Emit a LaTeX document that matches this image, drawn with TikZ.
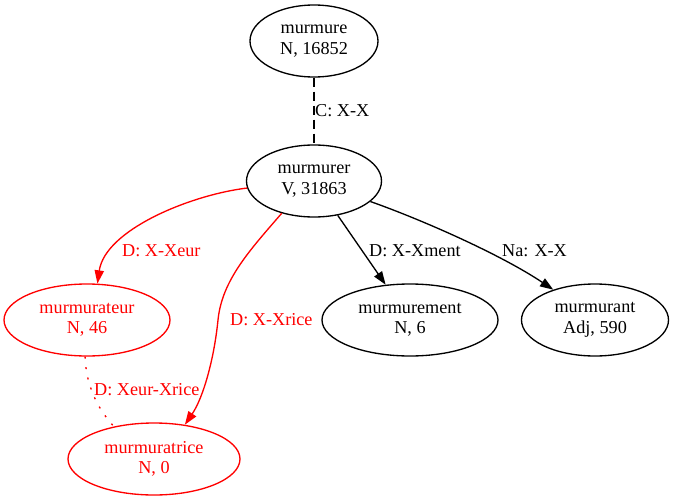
\documentclass[tikz,border=0pt]{standalone}
\usepackage{fontspec}
\setmainfont{Liberation Serif}
\usetikzlibrary{shapes.geometric,arrows.meta}
\begin{document}
\begin{tikzpicture}[x=1pt,y=-1pt,
  lex/.style={ellipse,draw,line width=1.33pt,inner sep=0pt,minimum height=72pt,align=center,font=\fontsize{18.2}{20.5}\selectfont},
  redlex/.style={lex,draw=red,text=red},
  edgelbl/.style={anchor=base west,inner sep=0pt,font=\fontsize{18.2}{20.5}\selectfont},
  conn/.style={line width=1.33pt},
  arr/.style={conn,-{Triangle[length=13.3pt,width=9.3pt]}},
]
\useasboundingbox (0,0) rectangle (673,501);
\node[lex,minimum width=128pt] (murmure) at (314,41) {murmure\\N, 16852};
\node[lex,minimum width=135pt] (murmurer) at (314,181) {murmurer\\V, 31863};
\node[redlex,minimum width=166pt] (murmurateur) at (87,320) {murmurateur\\N, 46};
\node[lex,minimum width=176pt] (murmurement) at (410,320) {murmurement\\N, 6};
\node[lex,minimum width=147pt] (murmurant) at (595,320) {murmurant\\Adj, 590};
\node[redlex,minimum width=172pt] (murmuratrice) at (154,459) {murmuratrice\\N, 0};
\coordinate (via) at (218,320);

\draw[conn,dash pattern=on 9pt off 5pt] (murmure) -- (murmurer);
\draw[arr,red] (murmurer.186) .. controls (190,195) and (105,230) .. (murmurateur.74);
\draw[arr,red] (murmurer.225) .. controls (250,250) and (222,280) .. (via) .. controls (214,360) and (203,398) .. (murmuratrice.48);
\draw[arr] (murmurer) -- (murmurement);
\draw[arr] (murmurer.340) .. controls (420,219) and (500,254) .. (murmurant.144);
\draw[conn,red,dash pattern=on 2pt off 8.5pt] (murmurateur.267) .. controls (86,385) and (97,408) .. (murmuratrice.141);

\node[edgelbl] (lC) at (315,116.5) {C: X-X};
\node[edgelbl,red] (lXeur) at (122,256) {D: X-Xeur};
\node[edgelbl,red] (lXrice) at (230,325.5) {D: X-Xrice};
\node[edgelbl,red] (lXX) at (94,395) {D: Xeur-Xrice};
\node[edgelbl] (lment) at (369,256) {D: X-Xment};
\node[edgelbl] (lNa) at (502,256) {Na: X-X};
\end{tikzpicture}
\end{document}
